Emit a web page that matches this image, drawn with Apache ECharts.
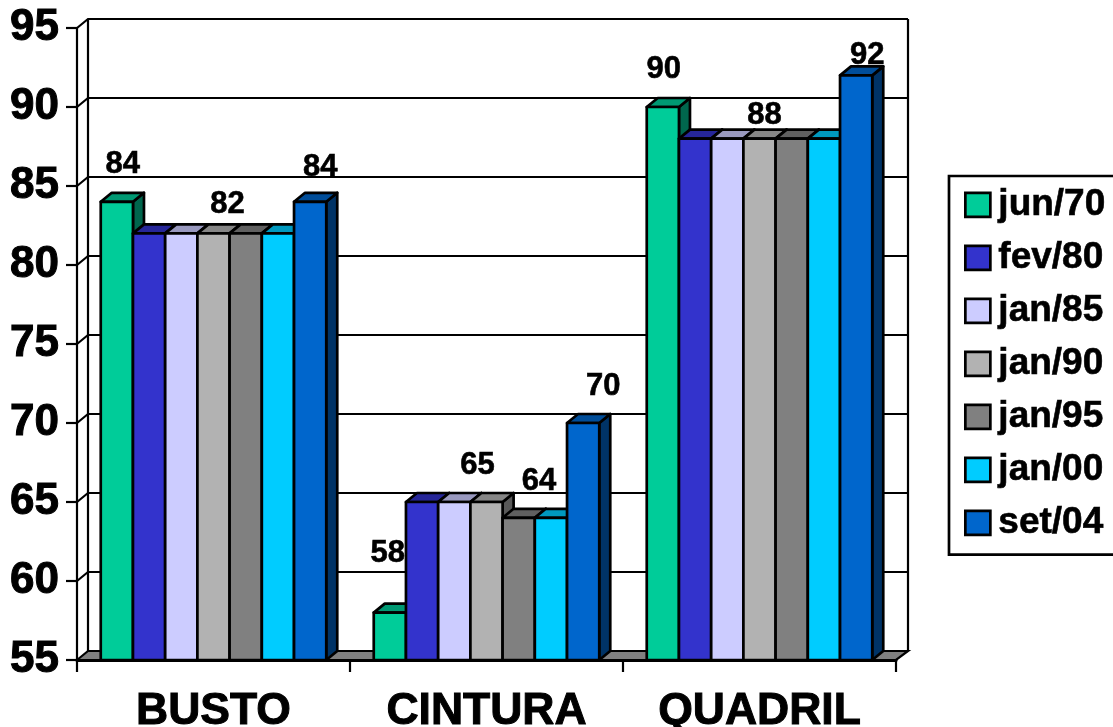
<!DOCTYPE html>
<html><head><meta charset="utf-8">
<style>html,body{margin:0;padding:0;background:#fff;overflow:hidden}#c{width:1113px;height:727px}</style>
<script src="https://cdn.jsdelivr.net/npm/echarts@6/dist/echarts.min.js"></script>
</head><body><div id="c"></div>
<script>
const categories = ['BUSTO','CINTURA','QUADRIL'];
const seriesNames = ['jun/70','fev/80','jan/85','jan/90','jan/95','jan/00','set/04'];
const jun70 = [84,58,90];
const fev80 = [82,65,88];
const jan85 = [82,65,88];
const jan90 = [82,65,88];
const jan95 = [82,64,88];
const jan00 = [82,64,88];
const set04 = [84,70,92];
const seriesValues = [jun70,fev80,jan85,jan90,jan95,jan00,set04];
const yTicks = [55,60,65,70,75,80,85,90,95];
const colors = ['#00CC99','#3333CC','#CCCCFF','#B2B2B2','#808080','#00CCFF','#0066CC'];
const font = 'Liberation Sans, Arial, sans-serif';
const DX = 11, DY = 9, WX = 11, WY = 9, LW = 2.7, GW = 2.2;
// data labels shown: "series:category" -> offset from the bar's top centre
const shownLabels = {
  '0:0':[6,-37],'3:0':[14,-29],'6:0':[10,-34],
  '0:1':[-2,-59],'3:1':[-9,-37],'5:1':[-12,-36],'6:1':[20,-37],
  '0:2':[1,-38],'3:2':[5,-23],'6:2':[11,-20]
};
function shade(hex,f){
  const n=parseInt(hex.slice(1),16);
  const c=[n>>16&255,n>>8&255,n&255].map(v=>Math.round(v*f));
  return 'rgb('+c.join(',')+')';
}
function wallItem(params,api){
  const cs=params.coordSys, v=api.value(0), y=api.coord([0,v])[1];
  const x0=cs.x, x1=cs.x+cs.width, top=cs.y, bot=cs.y+cs.height;
  const ls={stroke:'#000',lineWidth:GW,fill:null};
  const ch=[];
  if(v!==55){
    ch.push({type:'polyline',shape:{points:[[x0,y],[x0+WX,y-WY],[x1+WX+1,y-WY]]},style:ls});
  }
  if(params.dataIndex===0){
    ch.push({type:'polygon',shape:{points:[[x0,bot],[x0+WX,bot-WY],[x1+WX+1,bot-WY],[x1,bot]]},style:{fill:'#808080',stroke:'#000',lineWidth:GW}});
    ch.push({type:'polyline',shape:{points:[[x0+WX,bot-WY],[x0+WX,top-WY]]},style:ls});
    ch.push({type:'polyline',shape:{points:[[x1+WX+1,bot-WY],[x1+WX+1,top-WY]]},style:ls});
  }
  return {type:'group',children:ch};
}
function barItem(si){
  return function(params,api){
    const cat=api.value(0), val=api.value(1);
    const p=api.coord([cat,val]), base=api.coord([cat,55]);
    const catW=api.size([1,0])[0], w=catW*0.826/7;
    const xl=p[0]-w*3.5+si*w, xr=xl+w, yt=p[1], yb=base[1];
    const c=colors[si];
    const st=f=>({fill:f,stroke:'#000',lineWidth:LW,lineJoin:'round'});
    const ch=[
      {type:'polygon',shape:{points:[[xr,yt],[xr+DX,yt-DY],[xr+DX,yb-DY],[xr,yb]]},style:st(shade(c,.5))},
      {type:'polygon',shape:{points:[[xl,yt],[xl+DX,yt-DY],[xr+DX,yt-DY],[xr,yt]]},style:st(shade(c,.75))},
      {type:'rect',shape:{x:xl,y:yt,width:w,height:yb-yt},style:st(c)}
    ];
    const off=shownLabels[si+':'+cat];
    if(off){
      ch.push({type:'text',z2:100,style:{text:String(val),x:xl+w/2+off[0],y:yt+off[1],
        align:'center',verticalAlign:'middle',font:'bold 31px '+font,fill:'#000',stroke:'#000',lineWidth:0.6}});
    }
    return {type:'group',children:ch};
  };
}
const series=[{
  type:'custom',name:'walls',silent:true,z:1,clip:false,
  data:yTicks.map(v=>[v]),encode:{y:0},renderItem:wallItem
}];
seriesNames.forEach((n,si)=>{
  series.push({type:'custom',name:n,z:2+si,clip:false,
    itemStyle:{color:colors[si]},
    data:categories.map((c,i)=>[i,seriesValues[si][i]]),
    encode:{x:0,y:1},renderItem:barItem(si)});
});
const chart=echarts.init(document.getElementById('c'),null,{renderer:'canvas'});
chart.setOption({
  animation:false,backgroundColor:'#fff',
  grid:{left:77,right:217,top:28,bottom:67,outerBoundsMode:'none'},
  xAxis:{type:'category',data:categories,z:20,
    axisLine:{lineStyle:{color:'#000',width:3}},
    axisTick:{show:true,length:12,lineStyle:{color:'#000',width:GW}},
    axisLabel:{color:'#000',fontFamily:font,fontWeight:'bold',fontSize:44.5,margin:29,interval:0,textBorderColor:'#000',textBorderWidth:1},
    splitLine:{show:false}},
  yAxis:{type:'value',min:55,max:95,interval:5,z:20,
    axisLine:{show:true,lineStyle:{color:'#000',width:GW}},
    axisTick:{show:true,length:11,lineStyle:{color:'#000',width:GW}},
    axisLabel:{color:'#000',fontFamily:font,fontWeight:'bold',fontSize:44,margin:18,textBorderColor:'#000',textBorderWidth:1},
    splitLine:{show:false}},
  legend:{orient:'vertical',left:949,top:176,data:seriesNames,
    borderColor:'#000',borderWidth:LW,backgroundColor:'#fff',
    padding:[10,40,13,15],itemWidth:25,itemHeight:24,itemGap:15.4,
    icon:'rect',itemStyle:{borderColor:'#000',borderWidth:LW},
    textStyle:{color:'#000',fontFamily:font,fontWeight:'bold',fontSize:37,padding:[4,0,0,3],textBorderColor:'#000',textBorderWidth:0.6}},
  series:series
});
</script></body></html>
